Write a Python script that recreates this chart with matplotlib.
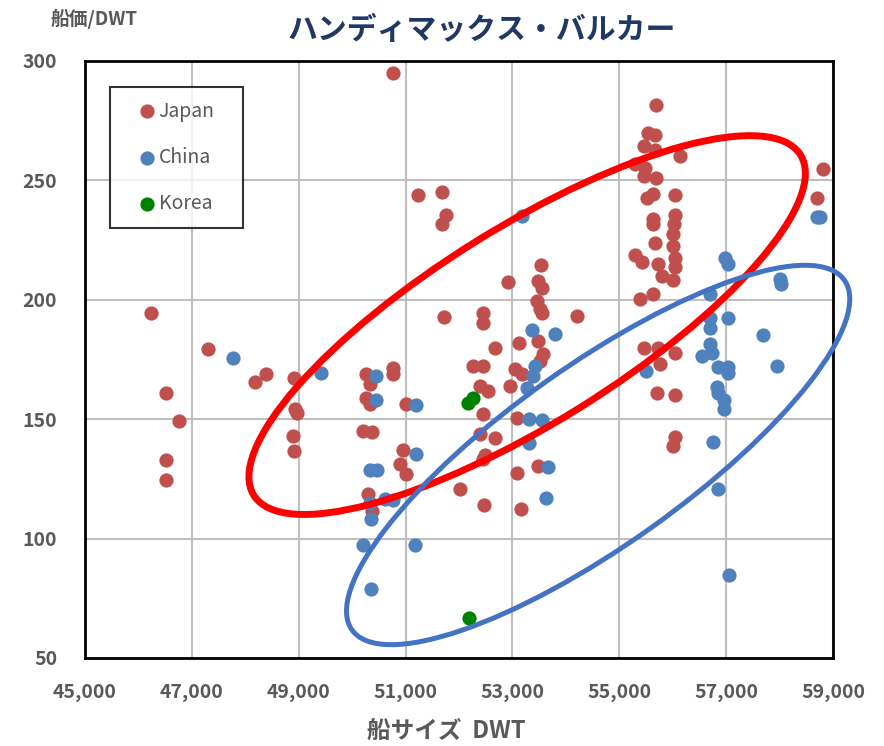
import matplotlib
matplotlib.use('Agg')
import matplotlib.pyplot as plt
from matplotlib.patches import Ellipse
from matplotlib.transforms import ScaledTranslation
from matplotlib.ticker import FuncFormatter
import numpy as np

plt.rcParams['font.family'] = ['Noto Sans CJK JP', 'DejaVu Sans']

# ---- data ----
japan_dwt = [50770, 51240, 51680, 51750, 51680, 46230, 51720, 47300, 48390, 48180,
             48920, 46510, 46760, 46510, 46510, 48930, 48970, 48900, 48920, 50260,
             50340, 50770, 50770, 50260, 50340, 51010, 50210, 50370, 50960, 50900,
             51010, 52010, 50300, 50370, 55690, 55540, 55670, 55470, 55670, 56130,
             55300, 55480, 55470, 55690, 58820, 58700, 55520, 55630, 56050, 56050,
             55630, 55630, 56030, 56010, 55670, 56010, 55300, 55430, 55730, 56050,
             56050, 55800, 56010, 55390, 55630, 53540, 52910, 53480, 53550, 53460,
             53520, 53550, 54200, 52450, 52450, 52670, 53130, 53480, 53570, 53520,
             52270, 52450, 53040, 53180, 55470, 55730, 56050, 55760, 52960, 52400,
             52540, 52450, 53090, 52400, 52670, 52490, 52450, 53480, 53090, 52470,
             53150, 55710, 56050, 56050, 56010]
japan_price = [295.0, 243.9, 245.1, 235.5, 231.7, 194.5, 192.8, 179.4, 168.9, 165.6,
               167.3, 161.0, 149.2, 132.9, 124.5, 154.3, 152.6, 143.0, 136.7, 168.9,
               164.7, 171.4, 168.9, 158.9, 156.4, 156.4, 145.1, 144.6, 137.1, 131.2,
               127.0, 120.8, 118.7, 111.6, 281.6, 269.8, 269.0, 264.4, 262.7, 260.2,
               256.9, 255.2, 251.8, 251.0, 254.8, 242.6, 242.6, 244.3, 243.9, 235.5,
               233.8, 231.7, 231.7, 227.6, 223.8, 222.5, 218.8, 215.8, 215.0, 217.5,
               213.7, 210.0, 208.3, 200.3, 202.4, 214.6, 207.5, 207.9, 204.9, 199.5,
               196.1, 194.5, 193.2, 194.5, 190.3, 179.8, 181.9, 182.7, 177.3, 174.4,
               172.3, 172.3, 171.0, 168.9, 179.8, 179.8, 177.7, 173.1, 163.9, 163.9,
               161.8, 152.2, 150.5, 143.8, 142.1, 135.0, 133.3, 130.4, 127.5, 114.1,
               112.4, 161.0, 160.1, 142.5, 138.8]

china_dwt = [47770, 49420, 50450, 50450, 51200, 51200, 50340, 50470, 50610, 50770,
             50340, 50350, 50210, 51180, 50350, 58700, 58760, 53180, 56970, 57030,
             58000, 58020, 56690, 53370, 53800, 57690, 57040, 56690, 56690, 56700,
             56740, 56550, 57950, 56850, 57030, 57030, 53420, 53390, 53280, 53310,
             53550, 53300, 53670, 53630, 55500, 56820, 56840, 56950, 56950, 56760,
             56840, 57060]
china_price = [175.6, 169.3, 168.1, 158.0, 156.0, 135.4, 128.7, 128.7, 116.6, 116.2,
               114.9, 108.2, 97.3, 97.3, 78.9, 234.7, 234.7, 235.1, 217.5, 215.0,
               208.7, 206.6, 202.4, 187.4, 185.7, 185.3, 192.4, 192.4, 188.2, 181.5,
               177.7, 176.5, 172.3, 171.9, 171.9, 169.3, 172.3, 168.1, 163.1, 150.1,
               149.7, 140.0, 130.0, 117.0, 170.2, 163.5, 161.0, 158.0, 154.3, 140.4,
               120.8, 84.8]

korea_dwt = [52170, 52270, 52190]
korea_price = [156.8, 158.9, 66.7]

x_ticks = [45000, 47000, 49000, 51000, 53000, 55000, 57000, 59000]
y_ticks = [50, 100, 150, 200, 250, 300]

# highlight ellipses: centre (DWT, price), semi-axes in pixels, angle in degrees
red_ell = dict(center=(53274, 189.4), a=322, b=98, angle=31.9)
blue_ell = dict(center=(54603, 135.0), a=302, b=90, angle=35.4)

gray = '#595959'

fig = plt.figure(figsize=(8.84, 7.46), dpi=100)
ax = fig.add_axes([0.0962, 0.118, 0.8462, 0.8003])

ax.scatter(japan_dwt, japan_price, s=105, color='#C0504D', label='Japan', zorder=3, linewidths=0)
ax.scatter(china_dwt, china_price, s=105, color='#4F81BD', label='China', zorder=3, linewidths=0)
ax.scatter(korea_dwt, korea_price, s=105, color='#008000', label='Korea', zorder=3, linewidths=0)

for ell, col, lw in [(red_ell, '#FF0000', 5.0), (blue_ell, '#4472C4', 3.6)]:
    trans = fig.dpi_scale_trans + ScaledTranslation(ell['center'][0], ell['center'][1], ax.transData)
    e = Ellipse((0, 0), width=2 * ell['a'] / 100, height=2 * ell['b'] / 100,
                angle=ell['angle'], transform=trans, fill=False,
                edgecolor=col, linewidth=lw, zorder=4, clip_on=False)
    ax.add_patch(e)

ax.set_xlim(45000, 59000)
ax.set_ylim(50, 300)
ax.set_xticks(x_ticks)
ax.set_yticks(y_ticks)
ax.xaxis.set_major_formatter(FuncFormatter(lambda v, p: f'{int(v):,}'))
ax.grid(True, color='#BFBFBF', linewidth=1.5, zorder=0)
ax.set_axisbelow(True)
for sp in ax.spines.values():
    sp.set_linewidth(2)
    sp.set_color('black')
ax.tick_params(length=0, labelsize=14, labelcolor=gray)
ax.tick_params(axis='y', pad=20)
ax.tick_params(axis='x', pad=18)
for lab in ax.get_xticklabels() + ax.get_yticklabels():
    lab.set_fontweight('bold')

leg = ax.legend(loc='upper left', bbox_to_anchor=(0.0334, 0.0, 0.178, 0.9564),
                mode='expand', frameon=True, fancybox=False, edgecolor='black',
                fontsize=14, labelcolor=gray, handletextpad=-0.57, labelspacing=1.3,
                borderpad=0.7, markerscale=1.0, handlelength=2.37, borderaxespad=0)
leg.get_frame().set_linewidth(1.5)

fig.text(0.545, 0.96, 'ハンディマックス・バルカー', ha='center', va='center',
         fontsize=21.5, fontweight='bold', color='#1F3864')
fig.text(0.106, 0.975, '船価/DWT', ha='center', va='center', fontsize=13.5,
         fontweight='bold', color=gray)
fig.text(0.505, 0.02, '船サイズ  DWT', ha='center', va='center', fontsize=17,
         fontweight='bold', color=gray)

fig.savefig('out.png', dpi=100)
